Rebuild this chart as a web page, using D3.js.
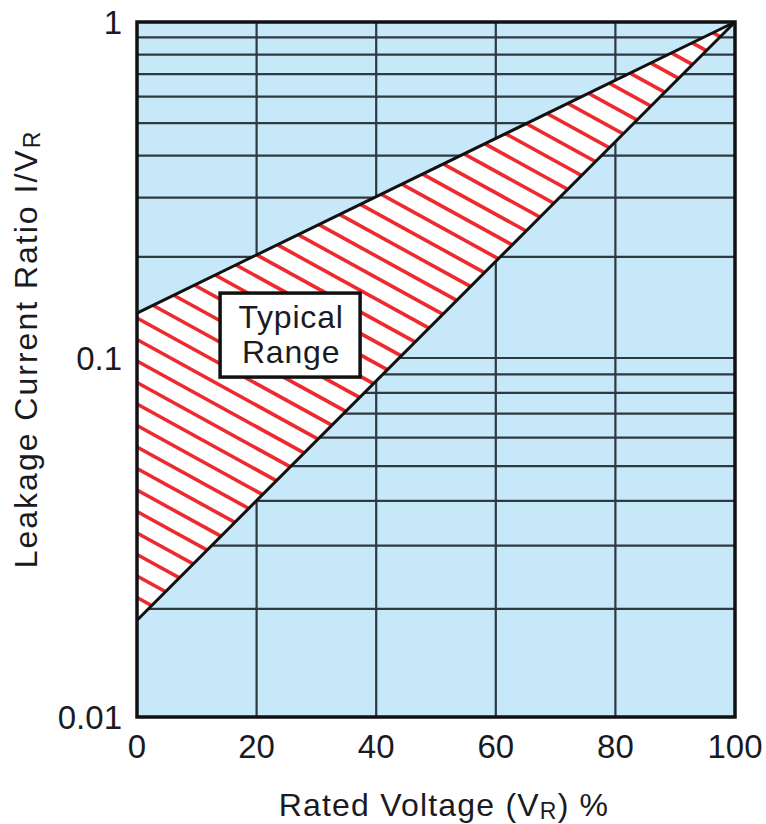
<!DOCTYPE html>
<html>
<head>
<meta charset="utf-8">
<script src="https://cdn.jsdelivr.net/npm/d3@7"></script>
<style>
  body { margin: 0; background: #fff; }
  svg text { font-family: "Liberation Sans", Arial, Helvetica, sans-serif; fill: #1a1a22; }
</style>
</head>
<body>
<div id="chart"></div>
<script>
// axis values
const xTicks = [0, 20, 40, 60, 80, 100];
const yTicks = [0.01, 0.1, 1];
const yTickLabels = ["0.01", "0.1", "1"];
const yGrid = [0.02, 0.03, 0.04, 0.05, 0.06, 0.07, 0.08, 0.09, 0.1,
               0.2, 0.3, 0.4, 0.5, 0.6, 0.7, 0.8, 0.9];

// typical range boundaries (rated voltage %, leakage ratio)
const voltage = [0, 100];
const upperRatio = [0.136, 1];
const lowerRatio = [0.0186, 1];

// where the "Typical Range" note sits
const noteAt = { v: 25.6, r: 0.117 };
const noteLines = ["Typical", "Range"];

const W = 766, H = 824;
const plot = { left: 137, right: 735, top: 22, bottom: 717 };

const x = d3.scaleLinear().domain([0, 100]).range([plot.left, plot.right]);
// the printed grid is not quite evenly spaced per decade
const y = d3.scaleLog().domain([0.01, 0.1, 1]).range([plot.bottom, 358, plot.top]);

const svg = d3.select("#chart").append("svg")
  .attr("width", W)
  .attr("height", H);

// plot background
svg.append("rect")
  .attr("x", plot.left).attr("y", plot.top)
  .attr("width", plot.right - plot.left).attr("height", plot.bottom - plot.top)
  .attr("fill", "#c6e8f8");

// grid
svg.append("g").selectAll("line")
  .data(yGrid)
  .enter().append("line")
  .attr("x1", plot.left).attr("x2", plot.right)
  .attr("y1", d => y(d)).attr("y2", d => y(d))
  .attr("stroke", "#2e3a42")
  .attr("stroke-width", 2.2);

svg.append("g").selectAll("line")
  .data(xTicks.slice(1, -1))
  .enter().append("line")
  .attr("x1", d => x(d)).attr("x2", d => x(d))
  .attr("y1", plot.top).attr("y2", plot.bottom)
  .attr("stroke", "#2e3a42")
  .attr("stroke-width", 2.2);

// typical range triangle: along the upper bound, back along the lower one
const pts = voltage.map((v, i) => [x(v), y(upperRatio[i])]);
for (let i = voltage.length - 1; i >= 0; i--) pts.push([x(voltage[i]), y(lowerRatio[i])]);
const areaPath = "M" + pts.map(p => p.join(",")).join("L") + "Z";

svg.append("clipPath").attr("id", "tri")
  .append("path").attr("d", areaPath);

svg.append("path")
  .attr("d", areaPath)
  .attr("fill", "#fff");

// red hatching
const slope = 0.55, gap = 21.5, phase = 318;
const hatch = d3.range(-30, 20).map(k => phase + k * gap);
svg.append("g")
  .attr("clip-path", "url(#tri)")
  .selectAll("line")
  .data(hatch)
  .enter().append("line")
  .attr("x1", plot.left).attr("y1", d => d)
  .attr("x2", plot.right).attr("y2", d => d + slope * (plot.right - plot.left))
  .attr("stroke", "#ee2a2e")
  .attr("stroke-width", 3.6);

// boundary lines
const bound = d3.line().x(d => x(d[0])).y(d => y(d[1]));
[upperRatio, lowerRatio].forEach(r => {
  svg.append("path")
    .datum(voltage.map((v, i) => [v, r[i]]))
    .attr("d", bound)
    .attr("fill", "none")
    .attr("stroke", "#111")
    .attr("stroke-width", 3);
});

// frame
svg.append("rect")
  .attr("x", plot.left).attr("y", plot.top)
  .attr("width", plot.right - plot.left).attr("height", plot.bottom - plot.top)
  .attr("fill", "none")
  .attr("stroke", "#111")
  .attr("stroke-width", 3.5);

// note box
const nx = x(noteAt.v), ny = y(noteAt.r);
svg.append("rect")
  .attr("x", nx - 70).attr("y", ny - 42)
  .attr("width", 140).attr("height", 84)
  .attr("fill", "#fff")
  .attr("stroke", "#111")
  .attr("stroke-width", 3.5);

svg.append("g").selectAll("text")
  .data(noteLines)
  .enter().append("text")
  .attr("x", nx + 1)
  .attr("y", (d, i) => ny - 7 + i * 35)
  .attr("text-anchor", "middle")
  .attr("font-size", 32)
  .attr("letter-spacing", 0.8)
  .text(d => d);

// tick labels
svg.append("g").selectAll("text")
  .data(yTicks)
  .enter().append("text")
  .attr("x", 122)
  .attr("y", d => y(d))
  .attr("dy", "0.36em")
  .attr("text-anchor", "end")
  .attr("font-size", 33)
  .text((d, i) => yTickLabels[i]);

svg.append("g").selectAll("text")
  .data(xTicks)
  .enter().append("text")
  .attr("x", d => x(d))
  .attr("y", 758)
  .attr("text-anchor", "middle")
  .attr("font-size", 33)
  .text(d => d);

// axis titles
const xt = svg.append("text")
  .attr("x", (plot.left + plot.right) / 2 + 8)
  .attr("y", 816)
  .attr("text-anchor", "middle")
  .attr("font-size", 32)
  .attr("letter-spacing", 1.2);
xt.append("tspan").text("Rated Voltage (V");
xt.append("tspan").attr("font-size", 23).attr("dy", 3).text("R");
xt.append("tspan").attr("dy", -3).text(") %");

const yt = svg.append("text")
  .attr("transform", "translate(37,349) rotate(-90)")
  .attr("text-anchor", "middle")
  .attr("font-size", 32)
  .attr("letter-spacing", 2);
yt.append("tspan").text("Leakage Current Ratio I/V");
yt.append("tspan").attr("font-size", 23).attr("dy", 3).text("R");
</script>
</body>
</html>
